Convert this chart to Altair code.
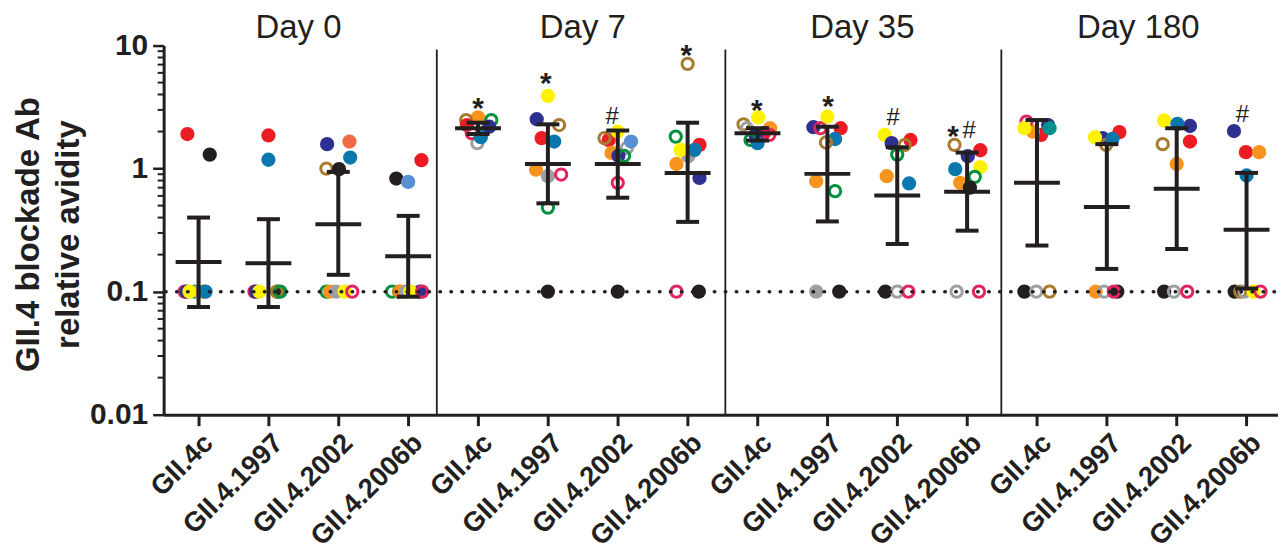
import json
import altair as alt
import pandas as pd

DAYS = ["Day 0", "Day 7", "Day 35", "Day 180"]
DAY_CENTRES = [1.43, 5.5, 9.5, 13.45]
STRAINS = ["GII.4c", "GII.4.1997", "GII.4.2002", "GII.4.2006b"]
SEPARATORS = [3.41, 7.54, 11.49]
LOD = [0.1]
MAJOR = [0.01, 0.1, 1, 10]
MINOR = [m * d for d in (0.01, 0.1, 1) for m in range(2, 10)]

COLORS = {
    "red": "#ec1c24", "black": "#231f20", "navy": "#2e3192", "blue": "#0a77ad",
    "lightblue": "#5a8fd4", "yellow": "#fff200", "orange": "#f7941d",
    "salmon": "#f06a48", "teal": "#00918f", "gray": "#9d9fa2",
    "brown": "#a87b2f", "green": "#00923f", "pink": "#e4245c",
}
F, R = True, False
# (value, subject colour, filled?, jitter within category)
D0_4C = [(0.1, "pink", R, -0.20), (0.1, "navy", F, -0.17), (0.1, "green", R, -0.05),
         (0.1, "gray", F, 0.0), (0.1, "yellow", F, -0.13), (0.1, "brown", R, 0.07),
         (0.1, "blue", F, 0.10), (1.91, "red", F, -0.16), (1.30, "black", F, 0.16)]
D0_1997 = [(0.1, "pink", R, -0.20), (0.1, "navy", F, -0.18), (0.1, "yellow", F, -0.13),
           (0.1, "black", F, 0.13), (0.1, "brown", R, 0.12), (0.1, "green", R, 0.17),
           (1.86, "red", F, 0.0), (1.18, "blue", F, 0.0)]
D0_2002 = [(0.1, "green", R, -0.17), (0.1, "orange", F, -0.12), (0.1, "gray", F, -0.03),
           (0.1, "yellow", F, 0.09), (0.1, "pink", R, 0.20), (1.58, "navy", F, -0.16),
           (1.66, "salmon", F, 0.16), (1.23, "blue", F, 0.17), (1.0, "brown", R, -0.17),
           (0.99, "black", F, 0.01)]
D0_2006B = [(0.1, "green", R, -0.23), (0.1, "brown", R, -0.13), (0.1, "orange", F, -0.11),
            (0.1, "gray", F, -0.03), (0.1, "navy", F, 0.17), (0.1, "yellow", F, 0.03),
            (0.1, "pink", R, 0.20), (1.17, "red", F, 0.19), (0.83, "black", F, -0.17),
            (0.78, "lightblue", F, 0.0)]
D7_4C = [(2.61, "orange", F, 0.0), (2.48, "brown", R, -0.17), (2.48, "green", R, 0.19),
         (2.26, "red", F, -0.16), (2.19, "navy", F, 0.16), (1.61, "gray", R, -0.01),
         (1.94, "pink", R, -0.09), (1.80, "blue", F, 0.04)]
D7_1997 = [(3.90, "yellow", F, 0.0), (2.52, "navy", F, -0.16), (2.26, "brown", R, 0.16),
           (1.77, "red", F, -0.09), (1.66, "blue", F, 0.09), (0.98, "orange", F, -0.17),
           (0.867, "gray", F, 0.0), (0.895, "pink", R, 0.19), (0.482, "green", R, 0.0),
           (0.1, "black", F, 0.0)]
D7_2002 = [(1.47, "gray", R, 0.13), (1.71, "red", F, -0.13), (2.0, "yellow", F, 0.0),
           (1.77, "brown", R, -0.19), (1.66, "lightblue", F, 0.19), (1.34, "orange", F, -0.09),
           (1.27, "navy", F, 0.01), (1.27, "green", R, 0.09), (0.766, "pink", R, 0.0),
           (0.1, "black", F, 0.0)]
D7_2006B = [(7.1, "brown", R, 0.0), (1.26, "gray", F, 0.01), (1.82, "green", R, -0.17),
            (1.56, "red", F, 0.17), (1.42, "yellow", F, -0.10), (1.42, "blue", F, 0.10),
            (1.09, "orange", F, -0.16), (0.84, "navy", F, 0.17), (0.1, "pink", R, -0.16),
            (0.1, "black", F, 0.16)]
D35_4C = [(2.29, "brown", R, -0.20), (2.13, "gray", R, -0.15), (2.13, "orange", F, 0.18),
          (1.94, "red", F, 0.09), (1.88, "pink", R, 0.17), (1.88, "navy", F, -0.03),
          (1.71, "green", R, -0.10), (1.61, "blue", F, 0.0), (2.61, "yellow", F, 0.01)]
D35_1997 = [(2.17, "navy", F, -0.20), (2.13, "pink", R, -0.10), (2.13, "red", F, 0.19),
            (2.64, "yellow", F, 0.0), (1.74, "blue", F, 0.11), (1.63, "brown", R, -0.02),
            (0.79, "orange", F, -0.16), (0.656, "green", R, 0.11), (0.1, "gray", F, -0.16),
            (0.1, "black", F, 0.17)]
D35_2002 = [(1.88, "yellow", F, -0.18), (1.71, "red", F, 0.19), (1.61, "navy", F, -0.08),
            (1.56, "brown", R, 0.11), (1.30, "green", R, 0.0), (0.867, "orange", F, -0.15),
            (0.757, "blue", F, 0.17), (0.1, "black", F, -0.17), (0.1, "gray", R, 0.0),
            (0.1, "pink", R, 0.16)]
D35_2006B = [(1.56, "brown", R, -0.18), (1.41, "red", F, 0.19), (1.26, "navy", F, 0.01),
             (1.03, "yellow", F, 0.19), (0.99, "blue", F, -0.17), (0.857, "green", R, 0.11),
             (0.767, "orange", F, -0.10), (0.70, "black", F, 0.04), (0.1, "gray", R, -0.15),
             (0.1, "pink", R, 0.17)]
D180_4C = [(1.88, "red", F, 0.06), (2.0, "orange", F, -0.06), (2.41, "pink", R, -0.15),
           (2.13, "yellow", F, -0.18), (2.26, "navy", F, 0.16), (2.13, "teal", F, 0.18),
           (0.1, "black", F, -0.18), (0.1, "gray", R, -0.01), (0.1, "brown", R, 0.18)]
D180_1997 = [(1.77, "navy", F, -0.06), (1.98, "red", F, 0.18), (1.56, "brown", R, -0.01),
             (1.74, "blue", F, 0.08), (1.80, "yellow", F, -0.17), (0.1, "orange", F, -0.16),
             (0.1, "gray", R, -0.04), (0.1, "black", F, 0.15), (0.1, "pink", R, 0.10)]
D180_2002 = [(2.46, "yellow", F, -0.18), (2.22, "navy", F, 0.19), (2.31, "blue", F, 0.01),
             (1.66, "red", F, 0.19), (1.58, "brown", R, -0.20), (1.09, "orange", F, 0.0),
             (0.1, "black", F, -0.18), (0.1, "gray", R, -0.04), (0.1, "pink", R, 0.15)]
D180_2006B = [(2.02, "navy", F, -0.18), (1.36, "red", F, -0.01), (1.36, "orange", F, 0.18),
              (0.879, "blue", F, 0.0), (0.1, "black", F, -0.17), (0.1, "brown", R, -0.09),
              (0.1, "gray", R, -0.03), (0.1, "yellow", F, 0.10), (0.1, "pink", R, 0.20)]

GROUPS = [D0_4C, D0_1997, D0_2002, D0_2006B, D7_4C, D7_1997, D7_2002, D7_2006B,
          D35_4C, D35_1997, D35_2002, D35_2006B, D180_4C, D180_1997, D180_2002, D180_2006B]

MEAN = [0.174, 0.170, 0.353, 0.194, 2.13, 1.09, 1.09, 0.923,
        1.94, 0.906, 0.605, 0.648, 0.766, 0.487, 0.686, 0.318]
LOWER = [0.075, 0.075, 0.137, 0.091, 1.91, 0.522, 0.58, 0.369,
         1.69, 0.372, 0.244, 0.313, 0.237, 0.153, 0.222, 0.106]
UPPER = [0.40, 0.388, 0.94, 0.413, 2.36, 2.29, 2.04, 2.36,
         2.13, 2.19, 1.49, 1.35, 2.48, 1.58, 2.13, 0.923]

# significance marks: * and # above groups
STAR_GROUP = [4, 5, 7, 8, 9, 11]
STAR_Y = [3.47, 5.53, 9.4, 3.37, 3.58, 2.05]
STAR_SHIFT = [0.0, -0.03, -0.02, -0.01, 0.01, -0.20]
HASH_GROUP = [6, 10, 11, 15]
HASH_Y = [2.66, 2.62, 2.05, 2.79]
HASH_SHIFT = [-0.08, -0.06, 0.03, -0.06]

W, H = 1117, 370
FONT = "Liberation Sans"
INK = "#231f20"

rows = []
for g, pts in enumerate(GROUPS):
    for k, (v, subj, filled, jit) in enumerate(pts):
        rows.append({"x": g + jit, "y": v, "subj": subj, "filled": filled, "order": k})
pts_df = pd.DataFrame(rows)

stats_df = pd.DataFrame({"x": list(range(len(GROUPS))), "mean": MEAN, "lo": LOWER, "hi": UPPER})
star_df = pd.DataFrame({"x": [g + s for g, s in zip(STAR_GROUP, STAR_SHIFT)], "y": STAR_Y, "t": "*"})
hash_df = pd.DataFrame({"x": [g + s for g, s in zip(HASH_GROUP, HASH_SHIFT)], "y": HASH_Y, "t": "#"})
day_df = pd.DataFrame({"x": DAY_CENTRES, "t": DAYS})
sep_df = pd.DataFrame({"x": SEPARATORS})
lod_df = pd.DataFrame({"y": LOD})
minor_df = pd.DataFrame({"y": MINOR})

xscale = alt.Scale(domain=[-0.5, 15.45], nice=False, zero=False)
yscale = alt.Scale(type="log", domain=[0.01, 10], nice=False)

label_expr = json.dumps(STRAINS) + "[datum.value % 4]"

x_axis = alt.Axis(
    title=None, values=list(range(16)), labelExpr=label_expr, grid=False,
    labelAngle=315, labelAlign="right", labelBaseline="top", labelPadding=3,
    labelFont=FONT, labelFontSize=27.5, labelFontWeight="bold", labelColor=INK,
    labelOverlap=False, labelFlush=False, labelBound=False,
    domainColor=INK, domainWidth=3, tickColor=INK, tickWidth=3, tickSize=11,
)
y_axis = alt.Axis(
    title=["GII.4 blockade Ab", "relative avidity"], values=MAJOR, format="~g", grid=False,
    labelFont=FONT, labelFontSize=30, labelFontWeight="bold", labelColor=INK,
    labelPadding=5, labelFlush=False, labelOverlap=False,
    domainColor=INK, domainWidth=3, tickColor=INK, tickWidth=2.5, tickSize=11,
    titleFont=FONT, titleFontSize=33, titleFontWeight="bold", titleColor=INK,
    titleAngle=270, titleAlign="center", titleBaseline="bottom",
    titleX=-118, titleY=H / 2 + 4, titleLineHeight=40,
)


def X(field):
    return alt.X(field, scale=xscale, axis=x_axis)


def Y(field):
    return alt.Y(field, scale=yscale, axis=y_axis)


color_scale = alt.Scale(domain=list(COLORS), range=list(COLORS.values()))

points = alt.Chart(pts_df).mark_point(shape="circle", size=128, strokeWidth=3, opacity=1).encode(
    x=X("x:Q"),
    y=Y("y:Q"),
    stroke=alt.Stroke("subj:N", scale=color_scale, legend=None),
    fill=alt.condition("datum.filled",
                       alt.Fill("subj:N", scale=color_scale, legend=None),
                       alt.value("transparent")),
    order="order:Q",
)

lod = alt.Chart(lod_df).mark_rule(color=INK, strokeWidth=3.5, strokeDash=[0.5, 10.5], strokeCap="round").encode(
    y=Y("y:Q"), x=alt.value(2), x2=alt.value(W),
)
seps = alt.Chart(sep_df).mark_rule(color=INK, strokeWidth=1.8).encode(
    x=X("x:Q"), y=alt.value(4), y2=alt.value(H),
)
minor = alt.Chart(minor_df).mark_rule(color=INK, strokeWidth=2).encode(
    y=Y("y:Q"), x=alt.value(-6), x2=alt.value(0),
)
whisker = alt.Chart(stats_df).mark_rule(color=INK, strokeWidth=4).encode(
    x=X("x:Q"), y=Y("lo:Q"), y2="hi:Q",
)
cap_lo = alt.Chart(stats_df).mark_tick(color=INK, orient="horizontal", size=23, thickness=4, opacity=1).encode(
    x=X("x:Q"), y=Y("lo:Q"),
)
cap_hi = alt.Chart(stats_df).mark_tick(color=INK, orient="horizontal", size=23, thickness=4, opacity=1).encode(
    x=X("x:Q"), y=Y("hi:Q"),
)
mean_bar = alt.Chart(stats_df).mark_tick(color=INK, orient="horizontal", size=46, thickness=4, opacity=1).encode(
    x=X("x:Q"), y=Y("mean:Q"),
)
stars = alt.Chart(star_df).mark_text(font=FONT, fontSize=30, fontWeight="bold", color=INK,
                                      baseline="middle", dy=7).encode(
    x=X("x:Q"), y=Y("y:Q"), text="t:N",
)
hashes = alt.Chart(hash_df).mark_text(font=FONT, fontSize=24, color=INK, baseline="middle", dy=1).encode(
    x=X("x:Q"), y=Y("y:Q"), text="t:N",
)
days = alt.Chart(day_df).mark_text(font=FONT, fontSize=33, color=INK, baseline="alphabetic").encode(
    x=X("x:Q"), y=alt.value(-8), text="t:N",
)

chart = alt.layer(points, lod, seps, minor, whisker, cap_lo, cap_hi, mean_bar, stars, hashes, days).properties(
    width=W, height=H, background="white",
    autosize=alt.AutoSizeParams(type="none"),
    padding={"left": 156, "top": 37, "right": 0, "bottom": 140},
).configure_view(stroke=None)

chart.save("out.html", embed_options={"renderer": "svg", "actions": False})
